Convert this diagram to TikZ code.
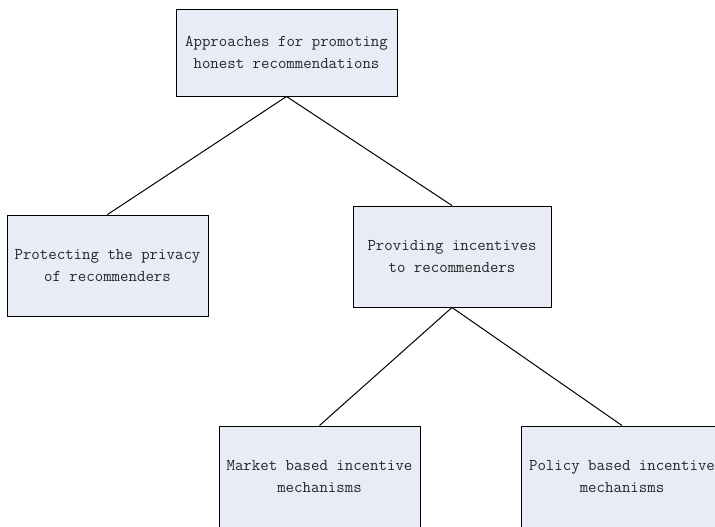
\documentclass[tikz,border=0pt]{standalone}
\usepackage{tikz}
\definecolor{boxfill}{RGB}{231,236,246}

\begin{document}
\begin{tikzpicture}[x=0.75pt,y=0.75pt,yscale=-1,xscale=1,
	box/.style={draw=black, fill=boxfill, line width=0.75pt, align=center,
		inner sep=0pt, minimum width=150.75pt, minimum height=75.75pt,
		text=black!85, font=\ttfamily\fontsize{12.3}{16}\selectfont},
	link/.style={draw=black, line width=0.75pt}]
	%set diagram size to 715 x 526, cut the lowest boxes at the edge
	\useasboundingbox (0,0) rectangle (715,526);
	\clip (0,0) rectangle (715,526);
	
	% Text Node
	\node [box, minimum width=165.75pt, minimum height=65.25pt] (approaches) at (286.5,52.5) {Approaches for promoting\\honest recommendations};
	% Text Node
	\node [box] (privacy) at (107.5,265.5) {Protecting the privacy\\of recommenders};
	% Text Node
	\node [box, minimum width=148.5pt] (incentives) at (452,256.5) {Providing incentives\\to recommenders};
	% Text Node
	\node [box] (market) at (319.5,476.5) {Market based incentive\\mechanisms};
	% Text Node
	\node [box] (policy) at (622,476.5) {Policy based incentive\\mechanisms};
	
	%Straight Lines
	\draw [link] (approaches.south) -- (privacy.north);
	\draw [link] (approaches.south) -- (incentives.north);
	\draw [link] (incentives.south) -- (market.north);
	\draw [link] (incentives.south) -- (policy.north);
	
\end{tikzpicture}
\end{document}
